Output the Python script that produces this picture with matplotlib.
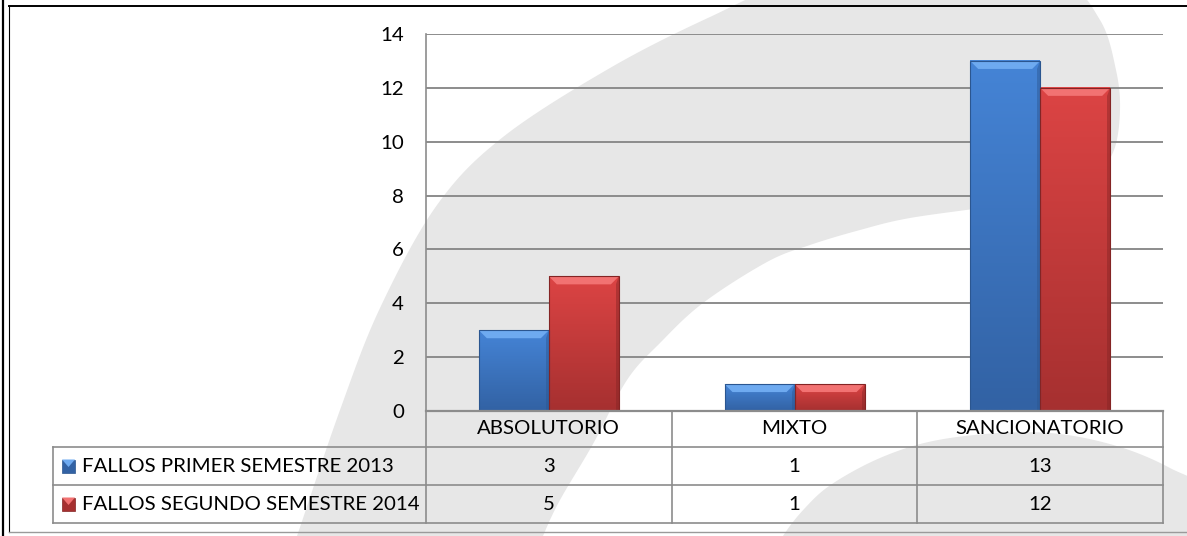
import matplotlib
matplotlib.use("Agg")
import matplotlib.pyplot as plt
import numpy as np
from matplotlib.lines import Line2D
from matplotlib.patches import Polygon, Rectangle

W, H = 1187, 536

categories = ["ABSOLUTORIO", "MIXTO", "SANCIONATORIO"]
series_names = ["FALLOS PRIMER SEMESTRE 2013", "FALLOS SEGUNDO SEMESTRE 2014"]
primer_2013 = [3, 1, 13]
segundo_2014 = [5, 1, 12]
y_ticks = [0, 2, 4, 6, 8, 10, 12, 14]

# body top, body bottom, bevel highlight, edge
BLUE = ("#4584d6", "#3262a4", "#6eaaf0", "#2b5690")
RED = ("#dc4444", "#a63030", "#f27272", "#842424")

plt.rcParams["font.family"] = ["Lato", "DejaVu Sans"]
FS = 14.7


def fx(px):
    return px / W


def fy(py):
    return 1 - py / H


def smooth(points, n=16):
    # catmull-rom through the outline points
    pts = np.asarray(points, dtype=float)
    pts = np.vstack([pts[0], pts, pts[-1]])
    out = []
    t = np.linspace(0, 1, n, endpoint=False)[:, None]
    for i in range(1, len(pts) - 2):
        p0, p1, p2, p3 = pts[i - 1], pts[i], pts[i + 1], pts[i + 2]
        seg = 0.5 * (2 * p1 + (-p0 + p2) * t + (2 * p0 - 5 * p1 + 4 * p2 - p3) * t ** 2
                     + (-p0 + 3 * p1 - 3 * p2 + p3) * t ** 3)
        out.append(seg)
    out.append(pts[-2][None, :])
    return np.vstack(out)


fig = plt.figure(figsize=(W / 100, H / 100), dpi=100)
fig.patch.set_facecolor("white")

# watermark swoosh behind the chart
band = [(285, 570), (297, 536), (340, 410), (380, 308), (437, 205), (503, 137), (610, 68),
        (710, 17), (800, -20), (950, -45), (1060, -20), (1100, 20), (1116, 70), (1120, 110),
        (1114, 150), (1095, 176), (1060, 192), (1000, 205), (910, 218), (860, 230), (810, 245),
        (767, 262), (703, 303), (660, 343), (627, 380), (593, 444), (560, 500), (543, 536),
        (530, 570)]
arc = [(765, 570), (783, 536), (805, 508), (832, 484), (880, 458), (933, 441), (1000, 433),
       (1060, 434), (1120, 447), (1170, 468), (1210, 495), (1230, 570)]
for shape in (band, arc):
    sm = smooth(shape)
    fig.add_artist(Polygon(np.column_stack([fx(sm[:, 0]), fy(sm[:, 1])]),
                           closed=True, transform=fig.transFigure,
                           facecolor="#e7e7e7", edgecolor="none", zorder=0))

# outer frame
frame = dict(transform=fig.transFigure, zorder=1)
fig.add_artist(Line2D([fx(2.5), fx(2.5)], [0, 1], color="black", lw=1.6, **frame))
fig.add_artist(Line2D([fx(9), fx(9)], [fy(532), fy(5.5)], color="black", lw=0.8, **frame))
fig.add_artist(Line2D([fx(9), 1], [fy(5.5), fy(5.5)], color="black", lw=1.4, **frame))
fig.add_artist(Line2D([fx(9), 1], [fy(532), fy(532)], color="#9a9a9a", lw=1.0, **frame))

ax = fig.add_axes([fx(426), fy(411), (1163 - 426) / W, (411 - 34) / H])
ax.set_facecolor("none")
ax.set_xlim(-0.5, len(categories) - 0.5)
ax.set_ylim(0, 14)
for s in ax.spines.values():
    s.set_visible(False)
ax.set_xticks([])
ax.set_yticks(y_ticks)
ax.tick_params(axis="y", length=0, pad=16, labelsize=FS)
ax.yaxis.grid(True, color="#8c8c8c", lw=1.4)
ax.set_axisbelow(True)

px_x = 3 / (1163 - 426)
px_y = 14 / (411 - 34)
bar_w = 70 * px_x


def bevel_bar(x0, h, colors, z=3):
    top, bottom, light, edge = colors
    x1 = x0 + bar_w
    grad = np.linspace(0, 1, 64)[:, None]
    c_top = np.array(matplotlib.colors.to_rgb(top))
    c_bot = np.array(matplotlib.colors.to_rgb(bottom))
    img = c_top[None, None, :] * (1 - grad[..., None]) + c_bot[None, None, :] * grad[..., None]
    ax.imshow(img, extent=(x0, x1, 0, h), aspect="auto", origin="upper",
              interpolation="bilinear", zorder=z)
    b, bv = 8 * px_x, 8 * px_y
    ax.add_patch(Polygon([(x0, h), (x1, h), (x1 - b, h - bv), (x0 + b, h - bv)],
                         facecolor=light, edgecolor="none", zorder=z + 0.1))
    ax.add_patch(Polygon([(x1, h), (x1, 0), (x1 - 3 * px_x, 0), (x1 - 3 * px_x, h - bv)],
                         facecolor=edge, edgecolor="none", alpha=0.45, zorder=z + 0.1))
    ax.add_patch(Rectangle((x0, 0), bar_w, h, facecolor="none", edgecolor=edge,
                           lw=0.8, zorder=z + 0.2))


xs = np.arange(len(categories))
for i in xs:
    bevel_bar(i - bar_w, primer_2013[i], BLUE)
    bevel_bar(i, segundo_2014[i], RED)

ax.set_xlim(-0.5, len(categories) - 0.5)
ax.set_ylim(0, 14)

# data table under the plot
grid_kw = dict(color="#8c8c8c", lw=1.2, clip_on=False, zorder=2)
row_y = [0, -36 / 377, -74 / 377, -112 / 377]
xt = ax.get_xaxis_transform()
ax.plot([-0.5, 2.5], [0, 0], transform=xt, color="#8c8c8c", lw=1.6, clip_on=False, zorder=5)
for y in row_y[1:]:
    fig.add_artist(Line2D([fx(53), fx(1163)], [fy(411 - y * 377)] * 2,
                          transform=fig.transFigure, color="#8c8c8c", lw=1.2, zorder=2))
fig.add_artist(Line2D([fx(53), fx(53)], [fy(447), fy(523)], transform=fig.transFigure,
                      color="#8c8c8c", lw=1.2, zorder=2))
for xb in [-0.5, 0.5, 1.5, 2.5]:
    y_low = row_y[-1]
    y_high = 1 if xb == -0.5 else 0
    ax.plot([xb, xb], [y_low, y_high], transform=xt, **grid_kw)

for i, cat in enumerate(categories):
    ax.text(i, (row_y[0] + row_y[1]) / 2, cat, transform=xt, ha="center", va="center",
            fontsize=FS)
    ax.text(i, (row_y[1] + row_y[2]) / 2, str(primer_2013[i]), transform=xt, ha="center",
            va="center", fontsize=FS)
    ax.text(i, (row_y[2] + row_y[3]) / 2, str(segundo_2014[i]), transform=xt, ha="center",
            va="center", fontsize=FS)

# legend keys inside the table
for name, colors, yc in [(series_names[0], BLUE, 466), (series_names[1], RED, 504)]:
    top, bottom, light, edge = colors
    fig.add_artist(Rectangle((fx(62), fy(yc + 6.5)), 13 / W, 13 / H, transform=fig.transFigure,
                             facecolor=bottom, edgecolor=edge, lw=0.5, zorder=3))
    fig.add_artist(Polygon([(fx(62), fy(yc - 6.5)), (fx(75), fy(yc - 6.5)),
                            (fx(68.5), fy(yc + 1))], transform=fig.transFigure,
                           facecolor=light, edgecolor="none", zorder=3))
    fig.text(fx(82), fy(yc), name, ha="left", va="center", fontsize=FS)

fig.savefig("out.png", dpi=100)
